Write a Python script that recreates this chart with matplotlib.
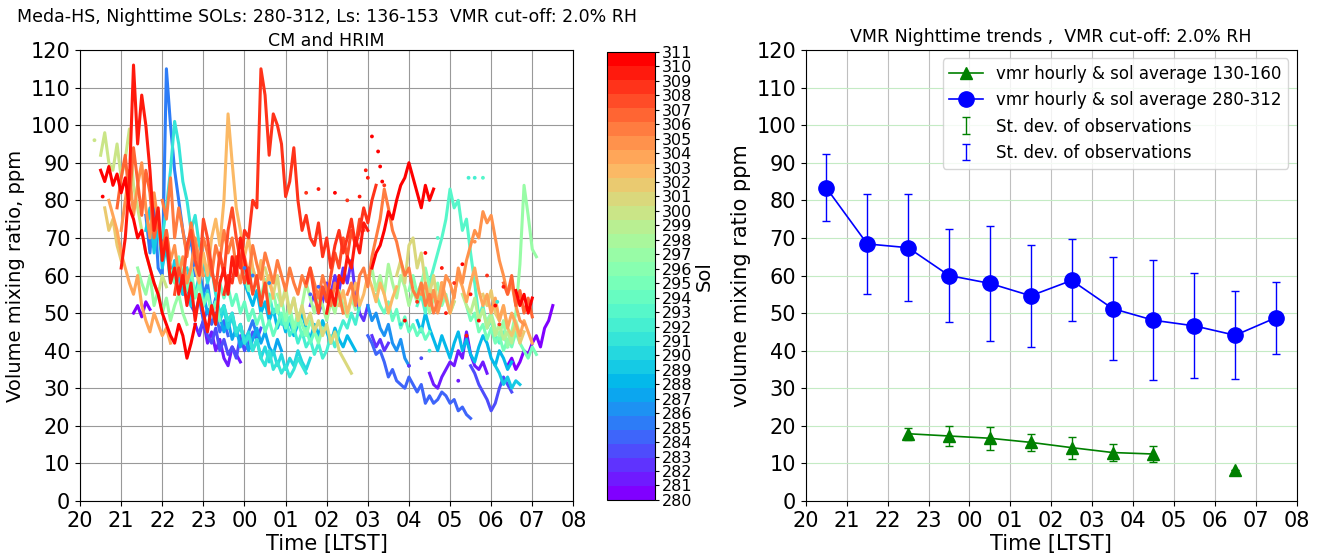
import matplotlib
matplotlib.use("Agg")
import matplotlib.pyplot as plt
import numpy as np
from matplotlib.colors import Normalize
from matplotlib.cm import ScalarMappable

# hour ticks, 20 LTST through 08 LTST next sol
hour_ticks = list(range(20, 33))
hour_labels = ['20', '21', '22', '23', '00', '01', '02', '03', '04', '05', '06', '07', '08']

# per-sol VMR segments (ppm), one value every 0.1 h from the start time
step = 0.1
traces = [
    (280, 21.3, [50, 52, 49, 53, 51]),
    (280, 30.4, [36, 38, 35, 37, 40, 39, 42, 44, 41, 46, 48, 52]),
    (281, 22.8, [47, 44, 48, 42, 45, 40, 43, 38, 36, 41, 39, 37]),
    (281, 28.5, [34, 31, 30, 33, 35, 37, 36, 40, 38, 45, 39, 36, 35, 37, 34]),
    (282, 25.6, [52, 55, 50, 53, 58, 55, 60, 56, 62, 58, 64, 55, 50, 48, 52]),
    (282, 27.1, [44, 41, 43, 40, 42]),
    (283, 22.9, [45, 48, 44, 42, 46, 40, 43, 39, 41, 38, 44, 40, 42, 45, 43, 46]),
    (283, 29.5, [36, 34, 31, 29, 27, 24, 26, 30, 33, 31, 29]),
    (284, 22.4, [60, 55, 58, 52, 50, 54, 48, 51, 47, 50, 45, 48, 44]),
    (284, 27.0, [44, 42, 39, 40, 37, 33, 35, 32, 31, 30, 33, 31, 29, 31, 26, 28, 26,
                 27, 29, 28, 26, 27, 24, 25, 23, 22]),
    (285, 21.6, [76, 66, 80, 62, 60, 115, 100, 88, 80, 72, 66, 70, 60, 62, 55, 58, 50,
                 54, 48, 52, 46, 50, 44, 47, 42, 45, 48, 44]),
    (286, 27.0, [52, 48, 50, 46, 44, 47, 42, 40, 43, 38, 36]),
    (287, 23.0, [55, 50, 52, 47, 49, 45, 48, 43, 46, 41, 44, 40, 43, 46, 42, 45, 41, 39, 43, 40]),
    (288, 24.0, [58, 55, 52, 56, 50, 53, 48, 51, 46, 49, 45, 48, 44, 47, 50, 46, 43, 47, 44,
                 48, 45, 42, 46, 43, 41, 44, 42, 40]),
    (288, 28.2, [48, 45, 50, 46, 43, 40, 44, 41, 38, 42, 45, 40, 43, 39, 37, 41, 44, 42, 38,
                 36, 40, 38, 35, 37]),
    (289, 21.6, [72, 78, 66, 74, 62, 68, 58, 64, 60, 55, 58, 52]),
    (289, 30.1, [36, 34, 31, 33, 30, 32, 31]),
    (290, 22.6, [62, 58, 55, 60, 52, 56, 50, 53, 48, 51, 46, 49, 44, 47, 42, 45, 40, 43, 38,
                 41, 37, 40, 36, 39, 35, 38, 36, 40, 37, 35, 38]),
    (291, 22.0, [70, 78, 88, 101, 95, 85, 80, 72, 76, 68, 65, 58, 62, 55, 50, 52, 48, 50, 45,
                 47, 42, 44, 40, 43, 38, 36, 40, 35, 37, 34, 36, 33, 35, 38, 36, 34]),
    (292, 24.6, [55, 50, 52, 47, 49, 44, 46, 42, 45, 41, 43, 39, 42, 38, 40, 44, 41, 45, 48,
                 46, 50, 47, 52]),
    (293, 28.2, [52, 55, 50, 58, 62, 66, 70, 75, 83, 78, 80, 72, 75, 66, 58, 49, 52, 46, 48,
                 44, 42, 45, 41]),
    (294, 23.4, [58, 54, 57, 52, 55, 50, 53, 48, 51, 47, 50, 45, 48, 44, 47, 50, 46, 49, 45,
                 48, 44, 46, 42, 45, 43]),
    (294, 27.2, [55, 52, 50, 53, 48, 51, 46, 49, 45, 47, 44, 46, 43, 45]),
    (295, 22.2, [62, 58, 65, 60, 56, 62, 54, 58, 52, 55, 50, 53, 48]),
    (295, 29.4, [52, 48, 50, 45, 47, 43, 46, 42, 44, 40, 43, 41, 45, 42, 40, 38, 41, 39]),
    (296, 24.0, [60, 56, 62, 58, 54, 59, 52, 56, 50, 54, 48, 52, 46, 50, 47, 44, 48, 45, 42, 46]),
    (296, 28.0, [56, 60, 55, 58, 62, 57, 54, 58, 52, 55, 50, 53]),
    (297, 21.4, [62, 58, 55, 60, 52, 56, 50, 54, 48, 52, 55, 50, 47]),
    (297, 29.9, [48, 50, 46, 44, 48, 41, 45, 50, 63, 84, 76, 67, 65]),
    (298, 24.8, [55, 52, 57, 50, 54, 48, 52, 58, 54, 50, 55, 52, 48, 53, 50, 56, 52, 49, 54, 51]),
    (298, 27.0, [58, 62, 56, 60, 55, 63, 58, 54, 60, 57, 52, 56, 53, 58, 55, 50, 54]),
    (299, 29.3, [55, 52, 50, 54, 48, 51, 46, 49, 44, 47, 43, 45, 42, 48, 44]),
    (300, 20.5, [92, 98, 90, 88, 95, 86, 91, 99, 84, 78, 72, 66, 62, 58, 55, 60, 57]),
    (301, 24.5, [62, 58, 55, 60, 52, 56, 50, 54, 48, 52, 47, 50, 45, 48, 44, 47, 42, 45, 40,
                 38, 36, 34]),
    (301, 27.7, [60, 64, 58, 68, 70, 62, 66, 58, 55, 60, 52, 56, 54, 50, 53]),
    (302, 20.6, [78, 72, 75, 68, 64]),
    (302, 29.8, [55, 52, 56, 50, 48, 52, 46, 44, 47, 42, 45]),
    (303, 22.8, [62, 58, 66, 60, 70, 75, 68, 80, 103, 90, 78, 72, 65, 70, 62, 58, 64, 56, 60, 54]),
    (303, 26.3, [52, 56, 50, 54, 58, 52, 55, 60, 57, 53, 58, 55, 50, 54, 57]),
    (304, 20.7, [80, 76, 72, 66, 62, 58, 55, 60, 52, 48, 45, 50, 47, 44, 46, 42]),
    (304, 28.6, [56, 52, 58, 54, 50, 55, 60, 57, 53, 58, 62, 56, 52, 55, 50, 54, 48, 52, 46,
                 50, 47, 44, 48, 45, 42]),
    (305, 21.0, [72, 80, 88, 76, 84, 90, 78, 70, 82, 74, 66, 72, 64, 68, 60, 65, 58, 62, 70, 64, 60]),
    (305, 28.3, [55, 58, 52, 56, 50, 54, 60, 58, 54, 62, 58, 64, 68, 72, 70, 77, 74, 76, 70,
                 64, 60, 55, 58, 52, 48, 47]),
    (306, 22.0, [80, 75, 86, 70, 78, 72, 65, 74, 68, 62, 70, 66, 60, 68, 64, 72, 66, 70, 62,
                 58, 65, 60, 68, 63, 59, 66, 62, 58, 64, 60, 56, 62, 58, 55, 60, 57, 62, 58,
                 54, 60, 56, 52, 58, 55, 50]),
    (306, 26.5, [55, 58, 52, 60, 62, 57, 65, 70, 75, 83, 78, 72, 69, 64, 60, 62, 56, 54, 58,
                 52, 55, 50, 53]),
    (307, 20.9, [78, 86, 92, 80, 94, 85, 76, 88, 82, 70, 75, 66, 72, 62]),
    (307, 30.3, [58, 55, 60, 52, 56, 50, 54, 49]),
    (308, 22.3, [55, 62, 58, 68, 72, 64, 60, 75, 70, 62, 56, 66, 60, 72, 78, 70, 64, 58, 62,
                 55, 60, 52, 58, 50]),
    (308, 25.5, [58, 62, 55, 50, 57, 53, 60, 66, 62, 70, 65, 72, 68, 75, 72]),
    (309, 23.5, [55, 60, 58, 65, 62, 72, 70, 80, 78, 115, 108, 92, 103, 100, 95, 81, 85, 94,
                 80, 72, 76, 70, 68, 74, 65, 70, 62, 68, 72, 66, 70, 75, 68, 72, 78, 74, 80, 84]),
    (310, 21.0, [62, 70, 85, 116, 95, 108, 100, 88, 72, 78, 64, 70, 58, 62, 55, 60, 52, 58,
                 48, 55, 50, 45, 52, 47, 58, 62, 55, 65, 60, 70, 64, 58]),
    (310, 26.0, [50, 56, 52, 60, 58, 65, 62, 70, 66, 74, 72]),
    (311, 20.5, [88, 85, 89, 84, 87, 82, 86, 78, 75, 70, 72, 66, 62, 58, 55, 50, 47, 44, 42,
                 47, 44, 38, 42, 47]),
    (311, 27.1, [62, 66, 68, 72, 77, 75, 80, 84, 86, 90, 86, 82, 78, 84, 80, 83]),
    (311, 30.6, [56, 52, 55, 50, 54]),
]

# isolated samples that never formed a continuous run
dot_sol = [311, 311, 311, 310, 310, 311, 309, 310, 309, 311, 310, 309,
           311, 310, 309, 311, 310, 309, 311, 310, 309, 311, 310, 309, 311, 310,
           292, 292, 293, 293, 291, 290, 292,
           285, 285, 286, 284, 284, 283, 282, 281,
           305, 304, 300, 311]
dot_t = [27.1, 27.25, 27.3, 27.0, 26.95, 27.35, 27.4, 26.8, 26.5, 26.2, 25.8, 25.5,
         28.4, 28.8, 29.1, 29.3, 29.5, 29.9, 30.1, 30.3, 30.2, 29.7, 28.9, 28.2, 27.9, 29.4,
         29.45, 29.6, 29.8, 28.7, 30.15, 27.8, 28.5,
         24.0, 24.2, 24.6, 25.6, 25.8, 28.3, 28.0, 29.2,
         29.6, 28.8, 20.35, 20.55]
dot_v = [97, 93, 89, 86, 88, 85, 84, 81, 80, 82, 83, 82,
         66, 62, 58, 63, 55, 60, 52, 57, 47, 48, 50, 53, 48, 44,
         86, 86, 86, 70, 53, 47, 40,
         62, 60, 58, 55, 57, 38, 36, 32,
         69, 58, 96, 81]

# hourly means and standard deviations
hour_mid = [20.5, 21.5, 22.5, 23.5, 24.5, 25.5, 26.5, 27.5, 28.5, 29.5, 30.5, 31.5]
vmr_280_312 = [83.3, 68.4, 67.4, 60.0, 57.9, 54.6, 58.7, 51.2, 48.1, 46.6, 44.1, 48.8]
std_280_312 = [8.9, 13.3, 14.3, 12.3, 15.4, 13.6, 10.9, 13.7, 16.0, 14.0, 11.7, 9.6]
vmr_130_160 = [np.nan, np.nan, 17.9, 17.3, 16.7, 15.6, 14.2, 12.9, 12.5, np.nan, 8.3, np.nan]
std_130_160 = [np.nan, np.nan, 1.6, 2.7, 3.1, 2.3, 2.9, 2.3, 2.1, np.nan, 0.0, np.nan]

cmap = plt.get_cmap('rainbow', 32)
norm = Normalize(vmin=280, vmax=311)

fig = plt.figure(figsize=(13.19, 5.53), dpi=100)
ax1 = fig.add_axes([0.0607, 0.094, 0.374, 0.8156])
cax = fig.add_axes([0.460, 0.096, 0.0364, 0.810])
ax2 = fig.add_axes([0.611, 0.094, 0.372, 0.8156])

# left: every sol coloured by its number
for sol, t0, vals in sorted(traces, key=lambda x: x[0]):
    t = t0 + step * np.arange(len(vals))
    ax1.plot(t, vals, color=cmap(norm(sol)), lw=2.2)
ax1.scatter(dot_t, dot_v, c=[cmap(norm(s)) for s in dot_sol], s=3, zorder=3)

ax1.set_xlim(20, 32)
ax1.set_ylim(0, 120)
ax1.set_yticks(range(0, 121, 10))
ax1.set_xticks(hour_ticks)
ax1.set_xticklabels(hour_labels)
ax1.grid(True, color='0.6', lw=0.8)
ax1.tick_params(labelsize=15)
ax1.set_xlabel('Time [LTST]', fontsize=15, labelpad=2)
ax1.set_ylabel('Volume mixing ratio, ppm', fontsize=14)
ax1.set_title('CM and HRIM', fontsize=12.5, pad=2)
ax1.annotate('Meda-HS, Nighttime SOLs: 280-312, Ls: 136-153  VMR cut-off: 2.0% RH',
             xy=(0.5, 1.0), xycoords='axes fraction', xytext=(0, 17),
             textcoords='offset points', ha='center', va='bottom', fontsize=12.5)

sm = ScalarMappable(norm=norm, cmap=cmap)
cb = fig.colorbar(sm, cax=cax, ticks=range(280, 312))
cb.ax.tick_params(labelsize=11.5, length=3, pad=2)
cb.set_label('Sol', fontsize=14, labelpad=2)

# right: hourly averages with spread
ax2.plot(hour_mid, vmr_130_160, '-^', color='green', ms=9, lw=1.2,
         label='vmr hourly & sol average 130-160')
ax2.plot(hour_mid, vmr_280_312, '-o', color='blue', ms=11, lw=1.2,
         label='vmr hourly & sol average 280-312')
ax2.errorbar(hour_mid, vmr_130_160, yerr=std_130_160, fmt='none', ecolor='green',
             elinewidth=1, capsize=3, label='St. dev. of observations')
ax2.errorbar(hour_mid, vmr_280_312, yerr=std_280_312, fmt='none', ecolor='blue',
             elinewidth=1, capsize=3, label='St. dev. of observations')

ax2.set_xlim(20, 32)
ax2.set_ylim(0, 120)
ax2.set_yticks(range(0, 121, 10))
ax2.set_xticks(hour_ticks)
ax2.set_xticklabels(hour_labels)
ax2.xaxis.grid(True, color='0.75', lw=0.8)
ax2.yaxis.grid(True, color='#c4ebc4', lw=0.8)
ax2.tick_params(labelsize=15)
ax2.set_xlabel('Time [LTST]', fontsize=15, labelpad=2)
ax2.set_ylabel('volume mixing ratio ppm', fontsize=15)
ax2.set_title('VMR Nighttime trends ,  VMR cut-off: 2.0% RH', fontsize=12.5, pad=6)
ax2.legend(loc='upper right', fontsize=12)

fig.savefig('out.png', dpi=100)
